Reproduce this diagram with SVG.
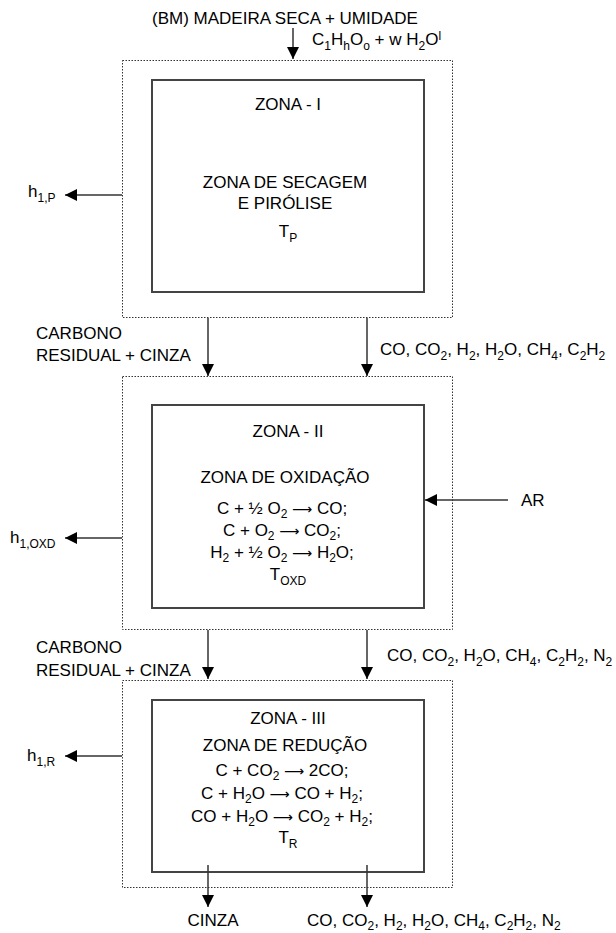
<svg xmlns="http://www.w3.org/2000/svg" width="616" height="933" viewBox="0 0 616 933">
<style>
text{font-family:"Liberation Sans",Arial,sans-serif;font-size:17px;fill:#000}
.m{text-anchor:middle}
.s{font-size:12px}
.a{font-family:"DejaVu Sans",sans-serif;font-size:14px}
.outer{fill:none;stroke:#333;stroke-width:1;stroke-dasharray:1.5 1.5}
.inner{fill:#fff;stroke:#444;stroke-width:2}
.c{stroke:#333;stroke-width:1.5;fill:none;marker-end:url(#ah)}
</style>
<defs>
<marker id="ah" viewBox="0 0 10 10" refX="10" refY="5" markerUnits="userSpaceOnUse" markerWidth="12" markerHeight="14" orient="auto">
<path d="M0,0 L10,5 L0,10 z" fill="#000"/>
</marker>
</defs>
<rect width="616" height="933" fill="#fff"/>

<g id="zone1">
<rect class="outer" x="122.5" y="60.5" width="330" height="257"/>
<rect class="inner" x="152" y="80" width="272" height="212"/>
<text class="m" x="288" y="110">ZONA - I</text>
<text class="m" x="285" y="188">ZONA DE SECAGEM</text>
<text class="m" x="285" y="209">E PIRÓLISE</text>
<text class="m" x="288" y="237">T<tspan class="s" dy="5">P</tspan></text>
</g>

<g id="zone2">
<rect class="outer" x="122.5" y="376.5" width="330" height="253"/>
<rect class="inner" x="152" y="405" width="272" height="203"/>
<text class="m" x="288" y="437">ZONA - II</text>
<text class="m" x="285" y="483">ZONA DE OXIDAÇÃO</text>
<text class="m" x="282" y="514">C + ½ O<tspan class="s" dy="4">2</tspan><tspan dy="-4"> </tspan><tspan class="a">⟶</tspan><tspan> CO;</tspan></text>
<text class="m" x="282" y="536">C + O<tspan class="s" dy="4">2</tspan><tspan dy="-4"> </tspan><tspan class="a">⟶</tspan><tspan> CO</tspan><tspan class="s" dy="4">2</tspan><tspan dy="-4">;</tspan></text>
<text class="m" x="282" y="558">H<tspan class="s" dy="4">2</tspan><tspan dy="-4"> + ½ O</tspan><tspan class="s" dy="4">2</tspan><tspan dy="-4"> </tspan><tspan class="a">⟶</tspan><tspan> H</tspan><tspan class="s" dy="4">2</tspan><tspan dy="-4">O;</tspan></text>
<text class="m" x="288" y="580">T<tspan class="s" dy="5">OXD</tspan></text>
</g>

<g id="zone3">
<rect class="outer" x="122.5" y="680.5" width="330" height="207"/>
<rect class="inner" x="152" y="700" width="272" height="172"/>
<text class="m" x="288" y="724">ZONA - III</text>
<text class="m" x="285" y="751">ZONA DE REDUÇÃO</text>
<text class="m" x="282" y="776">C + CO<tspan class="s" dy="4">2</tspan><tspan dy="-4"> </tspan><tspan class="a">⟶</tspan><tspan> 2CO;</tspan></text>
<text class="m" x="282" y="799">C + H<tspan class="s" dy="4">2</tspan><tspan dy="-4">O </tspan><tspan class="a">⟶</tspan><tspan> CO + H</tspan><tspan class="s" dy="4">2</tspan><tspan dy="-4">;</tspan></text>
<text class="m" x="282" y="822">CO + H<tspan class="s" dy="4">2</tspan><tspan dy="-4">O </tspan><tspan class="a">⟶</tspan><tspan> CO</tspan><tspan class="s" dy="4">2</tspan><tspan dy="-4"> + H</tspan><tspan class="s" dy="4">2</tspan><tspan dy="-4">;</tspan></text>
<text class="m" x="288" y="843">T<tspan class="s" dy="5">R</tspan></text>
</g>

<g id="connectors">
<line class="c" x1="293" y1="28" x2="293" y2="59"/>
<line class="c" x1="122" y1="195" x2="65" y2="195"/>
<line class="c" x1="208" y1="318" x2="208" y2="376"/>
<line class="c" x1="367" y1="318" x2="367" y2="376"/>
<line class="c" x1="508" y1="500" x2="425" y2="500"/>
<line class="c" x1="122" y1="538" x2="65" y2="538"/>
<line class="c" x1="208" y1="630" x2="208" y2="679"/>
<line class="c" x1="367" y1="630" x2="367" y2="679"/>
<line class="c" x1="122" y1="756" x2="65" y2="756"/>
<line class="c" x1="208" y1="865" x2="208" y2="907"/>
<line class="c" x1="367" y1="865" x2="367" y2="907"/>
</g>

<g id="labels">
<text class="m" x="285" y="24">(BM) MADEIRA SECA + UMIDADE</text>
<text x="312" y="45">C<tspan class="s" dy="5">1</tspan><tspan dy="-5">H</tspan><tspan class="s" dy="5">h</tspan><tspan dy="-5">O</tspan><tspan class="s" dy="5">o</tspan><tspan dy="-5"> + w H</tspan><tspan class="s" dy="5">2</tspan><tspan dy="-5">O</tspan><tspan class="s" dy="-5">l</tspan></text>
<text x="28" y="197">h<tspan class="s" dy="5">1,P</tspan></text>
<text x="36" y="339">CARBONO</text>
<text x="36" y="361">RESIDUAL + CINZA</text>
<text x="380" y="355">CO, CO<tspan class="s" dy="5">2</tspan><tspan dy="-5">, H</tspan><tspan class="s" dy="5">2</tspan><tspan dy="-5">, H</tspan><tspan class="s" dy="5">2</tspan><tspan dy="-5">O, CH</tspan><tspan class="s" dy="5">4</tspan><tspan dy="-5">, C</tspan><tspan class="s" dy="5">2</tspan><tspan dy="-5">H</tspan><tspan class="s" dy="5">2</tspan></text>
<text x="521" y="506">AR</text>
<text x="10" y="543">h<tspan class="s" dy="5">1,OXD</tspan></text>
<text x="36" y="653">CARBONO</text>
<text x="36" y="676">RESIDUAL + CINZA</text>
<text x="387" y="661">CO, CO<tspan class="s" dy="5">2</tspan><tspan dy="-5">, H</tspan><tspan class="s" dy="5">2</tspan><tspan dy="-5">O, CH</tspan><tspan class="s" dy="5">4</tspan><tspan dy="-5">, C</tspan><tspan class="s" dy="5">2</tspan><tspan dy="-5">H</tspan><tspan class="s" dy="5">2</tspan><tspan dy="-5">, N</tspan><tspan class="s" dy="5">2</tspan></text>
<text x="27" y="761">h<tspan class="s" dy="5">1,R</tspan></text>
<text class="m" x="213" y="926">CINZA</text>
<text x="307" y="926">CO, CO<tspan class="s" dy="4">2</tspan><tspan dy="-4">, H</tspan><tspan class="s" dy="4">2</tspan><tspan dy="-4">, H</tspan><tspan class="s" dy="4">2</tspan><tspan dy="-4">O, CH</tspan><tspan class="s" dy="4">4</tspan><tspan dy="-4">, C</tspan><tspan class="s" dy="4">2</tspan><tspan dy="-4">H</tspan><tspan class="s" dy="4">2</tspan><tspan dy="-4">, N</tspan><tspan class="s" dy="4">2</tspan></text>
</g>
</svg>
